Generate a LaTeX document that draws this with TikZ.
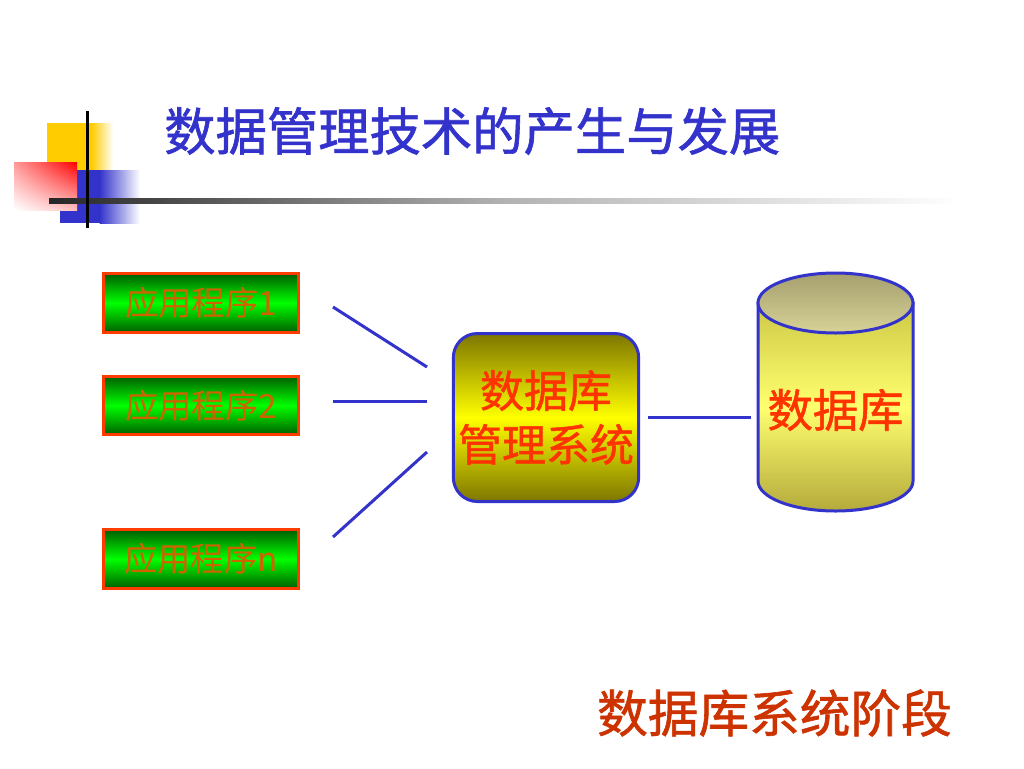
\documentclass[tikz,border=0pt]{standalone}
\usepackage{fontspec}
\usetikzlibrary{shadings}
\setmainfont{Noto Sans CJK SC}
\newfontfamily\cjkheavy{Noto Sans CJK SC}[FakeBold=1.2]
\definecolor{titleblue}{RGB}{51,51,204}
\definecolor{lineblue}{RGB}{51,51,204}
\definecolor{decoY}{RGB}{255,204,0}
\definecolor{decoB}{RGB}{51,51,204}
\definecolor{appborder}{RGB}{255,60,0}
\definecolor{apptext}{RGB}{205,100,0}
\definecolor{appdark}{RGB}{0,95,0}
\definecolor{appbright}{RGB}{0,255,0}
\definecolor{olive}{RGB}{125,118,0}
\definecolor{brightY}{RGB}{255,255,0}
\definecolor{redtext}{RGB}{255,51,0}
\definecolor{bottomred}{RGB}{204,51,0}
\definecolor{cylTop}{RGB}{205,200,70}
\definecolor{cylMid}{RGB}{255,255,110}
\definecolor{cylBot}{RGB}{180,170,60}
\definecolor{lidA}{RGB}{165,160,110}
\definecolor{lidB}{RGB}{215,210,150}
\tikzset{
  appbox/.style={draw=appborder, line width=2.25pt, minimum width=146pt, minimum height=44pt,
    top color=appdark, bottom color=appdark, middle color=appbright, text=apptext,
    font=\fontsize{25}{27}\selectfont, inner sep=0pt},
  dbmsbox/.style={draw=lineblue, line width=2.25pt, rounded corners=18pt, minimum width=139pt, minimum height=126pt,
    top color=olive, bottom color=olive, middle color=brightY, text=redtext, align=center,
    font=\cjkheavy\fontsize{33}{40.5}\selectfont, inner sep=0pt},
  conn/.style={draw=lineblue, line width=2.25pt},
}
\begin{document}
\begin{tikzpicture}[x=0.75pt,y=-0.75pt]
\useasboundingbox (0,0) rectangle (1024,768);
% decoration
\fill[decoY] (47,123) rectangle (92,170);
\shade[left color=decoY, right color=white] (91.5,123) rectangle (113,170);
\fill[decoB] (60,170) rectangle (100,223);
\shade[left color=decoB, right color=white] (99.5,170) rectangle (140,223);
\shade[upper left=red!40, upper right=red, lower left=white, lower right=red!25] (14,162) rectangle (77,210);
\shade[left color=black!85, right color=white, middle color=black!30] (49,198.5) rectangle (960,203.5);
\fill[black] (85.5,111) rectangle (88.5,228);
% title
\node[anchor=west, text=titleblue, font=\cjkheavy\fontsize{38.5}{40}\selectfont, inner sep=0pt] (title) at (164,131) {数据管理技术的产生与发展};
% applications
\node[appbox] (a1) at (201,303) {应用程序1};
\node[appbox] (a2) at (201,405.5) {应用程序2};
\node[appbox] (an) at (201,559) {应用程序n};
% DBMS
\node[dbmsbox] (dbms) at (546,417.5) {数据库\\管理系统};
% database cylinder
\shade[top color=cylTop, bottom color=cylBot, middle color=cylMid, draw=lineblue, line width=2.25pt]
  (758,303) -- (758,481) arc[start angle=180, end angle=0, x radius=77.5, y radius=30] -- (913,303) -- cycle;
\shade[top color=lidA, bottom color=lidB, draw=lineblue, line width=2.25pt] (835.5,303) ellipse[x radius=77.5, y radius=30];
\node[text=redtext, font=\cjkheavy\fontsize{34}{36}\selectfont, inner sep=0pt] (db) at (835.5,410) {数据库};
% connectors
\coordinate (l1s) at (333,307); \coordinate (l1e) at (427,367);
\coordinate (l2s) at (333,401); \coordinate (l2e) at (427,401);
\coordinate (l3s) at (333,537); \coordinate (l3e) at (427,452);
\draw[conn] (l1s) -- (l1e);
\draw[conn] (l2s) -- (l2e);
\draw[conn] (l3s) -- (l3e);
\draw[conn, shorten <=6pt, shorten >=12.5pt] (dbms.east) -- (dbms.east -| db.west);
% bottom label
\node[text=bottomred, font=\cjkheavy\fontsize{38}{40}\selectfont, inner sep=0pt] (stage) at (774.5,713) {数据库系统阶段};
\end{tikzpicture}
\end{document}
